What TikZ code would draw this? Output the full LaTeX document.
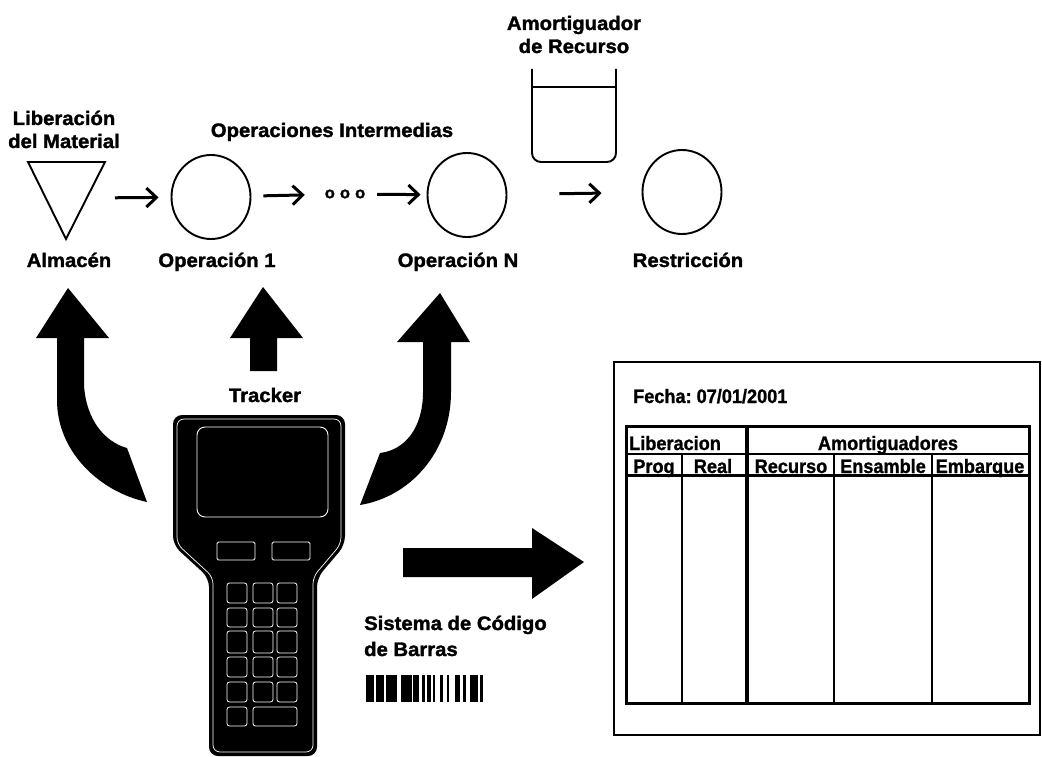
\documentclass[tikz,border=0pt]{standalone}
\usepackage{fontspec}
\setmainfont{Liberation Sans}
% heavy face for the flow labels, a bold face for the report sheet
\newfontfamily\heavy[FakeStretch=1.04, FakeBold=1.6, UprightFont={* Bold}]{Liberation Sans}
\newfontfamily\tabfont[FakeStretch=0.93, FakeBold=1.2, UprightFont={* Bold}]{Liberation Sans}
\usetikzlibrary{arrows.meta,shapes.geometric}

\begin{document}
\begin{tikzpicture}[x=1pt, y={(0pt,-1pt)},
  lbl/.style={font=\heavy\fontsize{19.5}{22}\selectfont, inner sep=0pt, anchor=base},
  cell/.style={font=\tabfont\fontsize{19.5}{22}\selectfont, inner sep=0pt, anchor=base},
  opnode/.style={ellipse, draw, line width=1.9pt, minimum width=79pt, minimum height=84pt, inner sep=0pt},
  flow/.style={line width=3pt, -{Straight Barb[length=10pt,width=19pt]}},
  bigarrow/.style={fill=black},
  key/.style={draw=white, line width=0.8pt, rounded corners=2.5pt},
  tblline/.style={line width=2.6pt}]

\useasboundingbox (0,0) rectangle (1042,757);

% ---------- process flow ----------
\node[lbl] (lib1) at (64,125) {Liberación};
\node[lbl] (lib2) at (64,148) {del Material};
\node[lbl] (inter) at (332,137) {Operaciones Intermedias};
\node[lbl] (amo1) at (574,30) {Amortiguador};
\node[lbl] (amo2) at (574,53) {de Recurso};

% warehouse triangle
\draw[line width=1.9pt, line join=miter] (28,162) -- (105,162) -- (66,239) -- cycle;
\coordinate (alm) at (87,198);

\node[opnode] (op1) at (211,197) {};
\node[inner sep=0pt, minimum width=44pt, font=\heavy\fontsize{16}{16}\selectfont] (dots) at (345,194) {o\hspace{5pt}o\hspace{5pt}o};
\node[opnode] (opN) at (467,195) {};
\node[opnode] (res) at (682,192) {};

% resource buffer
\draw[line width=1.9pt, rounded corners=9pt] (532,69) -- (532,162) -- (616,162) -- (616,69);
\draw[line width=1.5pt] (532,87) -- (616,87);

\draw[flow, shorten <=28pt, shorten >=12pt] (alm) -- (op1);
\draw[flow, shorten <=12pt, shorten >=18pt] (op1) -- (dots);
\draw[flow, shorten <=10pt, shorten >=6pt] (dots) -- (opN);
\draw[flow, shorten <=52pt, shorten >=40pt] (opN) -- (res);

\node[lbl] (almL) at (69,267) {Almacén};
\node[lbl] (op1L) at (217,267) {Operación 1};
\node[lbl] (opNL) at (458,267) {Operación N};
\node[lbl] (resL) at (688,267) {Restricción};

% ---------- big arrows from the tracker ----------
\fill[bigarrow] (68,288) -- (109,338) -- (84,338) -- (84,385)
  .. controls (86,420) and (105,442) .. (127,448) -- (147,502)
  .. controls (100,492) and (57,452) .. (57,400) -- (57,338) -- (36,338) -- cycle;
\fill[bigarrow] (263,287) -- (303,338) -- (277,338) -- (277,371) -- (250,371) -- (250,338) -- (230,338) -- cycle;
\fill[bigarrow] (440,293) -- (470,342) -- (451,342) -- (451,392)
  .. controls (451,452) and (410,497) .. (360,505) -- (380,453)
  .. controls (405,450) and (423,428) .. (423,392) -- (423,342) -- (397,342) -- cycle;
\fill[bigarrow] (403,548) -- (532,548) -- (532,528) -- (584,562) -- (532,599) -- (532,577) -- (403,577) -- cycle;

\node[lbl] (trk) at (265,402) {Tracker};

% ---------- tracker device ----------
\fill[black, rounded corners=9pt] (173,415) -- (345,415) -- (345,545) -- (317,578) -- (317,756) -- (209,756) -- (209,578) -- (173,545) -- cycle;
\draw[white, line width=0.7pt, rounded corners=7pt] (177,419) -- (341,419) -- (341,544) -- (313,577) -- (313,752) -- (213,752) -- (213,577) -- (177,544) -- cycle;
\draw[white, line width=0.9pt, rounded corners=8pt] (197,427) rectangle (328,517);
\draw[key, rounded corners=1.5pt] (217,542) rectangle (255,560);
\draw[key, rounded corners=1.5pt] (272,542) rectangle (310,560);
\foreach \ya/\yb in {583/603, 608/627, 631/653, 657/677, 682/702}{
  \draw[key] (227,\ya) rectangle (247,\yb);
  \draw[key] (253,\ya) rectangle (273,\yb);
  \draw[key] (277,\ya) rectangle (297,\yb);
}
\draw[key] (227,707) rectangle (247,726);
\draw[key] (253,707) rectangle (297,726);

% ---------- bar code ----------
\node[lbl, anchor=base west] (bc1) at (364,630) {Sistema de Código};
\node[lbl, anchor=base west] (bc2) at (364,656) {de Barras};
\foreach \a/\b in {366/374, 376/384, 386/397, 401/412, 413/419, 422/425, 427/431, 433/435, 440/443, 447/449, 455/460, 463/466, 470/478, 480/483}{
  \fill (\a,675) rectangle (\b,702);
}

% ---------- report sheet ----------
\draw[line width=1.4pt] (614,362) rectangle (1040,735);
\node[cell, anchor=base west] (fecha) at (633,403) {Fecha:\hspace{5pt}07/01/2001};

\draw[tblline, line width=3pt] (626,426) rectangle (1029,703);
\draw[tblline] (626,454) -- (1029,454);
\draw[tblline, line width=3pt] (626,475) -- (1029,475);
\draw[tblline, line width=4pt] (747,426) -- (747,703);
\draw[tblline] (682,454) -- (682,703);
\draw[tblline] (834,454) -- (834,703);
\draw[tblline] (932,454) -- (932,703);

\node[cell, anchor=base west] (hLib) at (629,450) {Liberacion};
\node[cell] (hAmo) at (888,450) {Amortiguadores};
\node[cell] (hProg) at (654,473) {Prog};
\node[cell] (hReal) at (713,473) {Real};
\node[cell] (hRec) at (791,473) {Recurso};
\node[cell] (hEns) at (883,473) {Ensamble};
\node[cell] (hEmb) at (980,473) {Embarque};

\end{tikzpicture}
\end{document}
